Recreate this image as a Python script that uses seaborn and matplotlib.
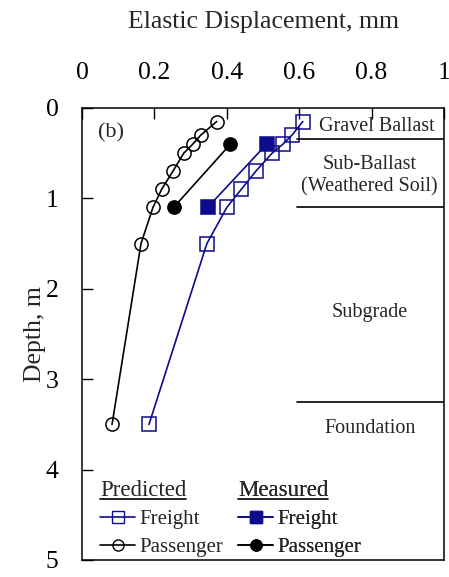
import numpy as np
import pandas as pd
import matplotlib
matplotlib.use("Agg")
import matplotlib.pyplot as plt
import seaborn as sns
from matplotlib.lines import Line2D

# 데이터
pred_freight_disp = [0.61, 0.58, 0.555, 0.525, 0.48, 0.44, 0.40, 0.345, 0.185]
pred_freight_depth = [0.15, 0.3, 0.4, 0.5, 0.7, 0.9, 1.1, 1.5, 3.5]
pred_pass_disp = [0.372, 0.328, 0.306, 0.281, 0.251, 0.220, 0.196, 0.163, 0.083]
pred_pass_depth = [0.15, 0.3, 0.4, 0.5, 0.7, 0.9, 1.1, 1.5, 3.5]
meas_freight_disp = [0.51, 0.347]
meas_freight_depth = [0.4, 1.1]
meas_pass_disp = [0.41, 0.253]
meas_pass_depth = [0.4, 1.1]

layer_bounds = [0.34, 1.1, 3.25]
layer_names = ["Gravel Ballast", "Sub-Ballast\n(Weathered Soil)", "Subgrade", "Foundation"]
layer_label_x = [0.815, 0.795, 0.795, 0.795]
layer_label_depth = [0.21, 0.75, 2.26, 3.54]

xticks = [0, 0.2, 0.4, 0.6, 0.8, 1]
xtick_labels = ["0", "0.2", "0.4", "0.6", "0.8", "1"]
yticks = [0, 1, 2, 3, 4, 5]

blue = "#0c0c8c"

sns.set_theme(style="ticks")
plt.rcParams["font.family"] = ["Liberation Serif", "DejaVu Serif"]

fig = plt.figure(figsize=(4.49, 5.77), dpi=100)
ax = fig.add_axes([82 / 449, 1 - 560 / 577, (444 - 82) / 449, (560 - 108) / 577])

def draw(disp, depth, color, marker, mfc, ms):
    df = pd.DataFrame({"disp": disp, "depth": depth})
    sns.lineplot(data=df, x="disp", y="depth", sort=False, estimator=None, ax=ax,
                 color=color, lw=1.2, marker=marker, markersize=ms,
                 markerfacecolor=mfc, markeredgecolor=color, markeredgewidth=1.1)

draw(pred_pass_disp, pred_pass_depth, "black", "o", "none", 9.5)
draw(meas_pass_disp, meas_pass_depth, "black", "o", "black", 9.5)
draw(pred_freight_disp, pred_freight_depth, blue, "s", "none", 9.5)
draw(meas_freight_disp, meas_freight_depth, blue, "s", blue, 9.5)

# 지층 경계선 및 라벨
for b in layer_bounds:
    ax.plot([0.595, 1.0], [b, b], color="black", lw=1.2)
for name, lx, d in zip(layer_names, layer_label_x, layer_label_depth):
    ax.text(lx, d, name, ha="center", va="center", fontsize=14.5, linespacing=1.2)

ax.text(0.08, 0.27, "(b)", ha="center", va="center", fontsize=16)

ax.set_xlim(0, 1)
ax.set_ylim(5, 0)
ax.xaxis.tick_top()
ax.xaxis.set_label_position("top")
ax.set_xticks(xticks)
ax.set_xticklabels(xtick_labels)
ax.set_yticks(yticks)
ax.tick_params(axis="both", direction="in", length=8, width=1, labelsize=18.5, colors="black")
ax.tick_params(axis="x", pad=17)
ax.tick_params(axis="y", pad=17)
ax.set_xlabel("Elastic Displacement, mm", fontsize=18.5, labelpad=25)
ax.set_ylabel("Depth, m", fontsize=18.5, labelpad=0)
for s in ax.spines.values():
    s.set_color("black")
    s.set_linewidth(1.1)

# 범례
h_pf = Line2D([], [], color=blue, lw=1.2, marker="s", ms=8, mfc="none", mec=blue)
h_pp = Line2D([], [], color="black", lw=1.2, marker="o", ms=8, mfc="none", mec="black")
h_mf = Line2D([], [], color=blue, lw=1.2, marker="s", ms=8, mfc=blue, mec=blue)
h_mp = Line2D([], [], color="black", lw=1.2, marker="o", ms=8, mfc="black", mec="black")

legs = []
for handles, title, x0 in [([h_pf, h_pp], "Predicted", 100), ([h_mf, h_mp], "Measured", 238)]:
    leg = ax.legend(handles, ["Freight", "Passenger"], title=title, frameon=False,
                    loc="upper left", bbox_to_anchor=(x0 / 449, 1 - 480 / 577),
                    bbox_transform=fig.transFigure, fontsize=15, title_fontsize=16.5,
                    handlelength=1.7, handletextpad=0.2, labelspacing=0.4,
                    borderpad=0, borderaxespad=0, alignment="left")
    ax.add_artist(leg)
    legs.append(leg)

fig.canvas.draw()
r = fig.canvas.get_renderer()
for leg in legs:
    bb = leg.get_title().get_window_extent(r)
    fig.add_artist(Line2D([bb.x0 / 449, bb.x1 / 449], [(bb.y0 + 2) / 577, (bb.y0 + 2) / 577],
                          transform=fig.transFigure, color="black", lw=1.2))

fig.savefig("out.png", dpi=100)
